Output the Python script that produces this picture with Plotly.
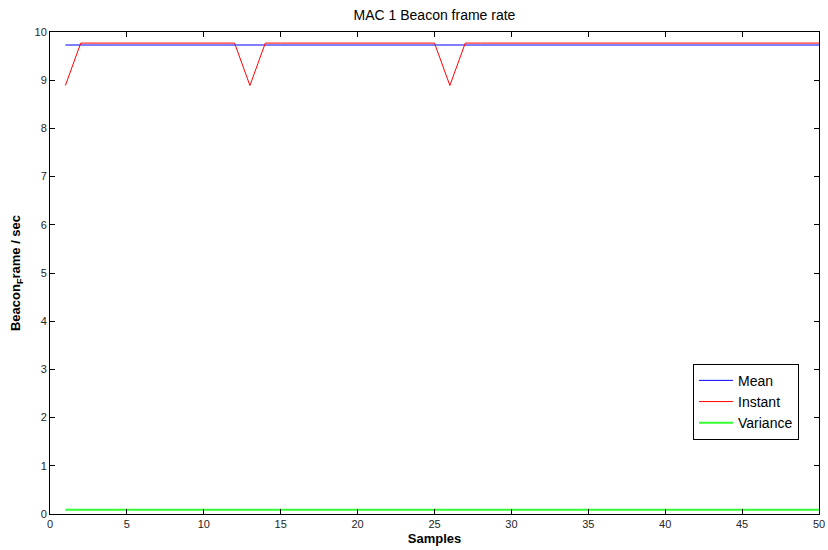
import plotly.graph_objects as go

# Beacon frame rate samples for MAC 1
samples = list(range(1, 51))
mean_rate = [9.73] * 50
instant_rate = [8.89] + [9.77] * 11 + [8.89] + [9.77] * 12 + [8.89] + [9.77] * 24
variance = [0.09] * 50

x_ticks = [0, 5, 10, 15, 20, 25, 30, 35, 40, 45, 50]
y_ticks = [0, 1, 2, 3, 4, 5, 6, 7, 8, 9, 10]

font_family = "Liberation Sans, Arial, sans-serif"

fig = go.Figure()
fig.add_trace(go.Scatter(x=samples, y=mean_rate, mode="lines", name="Mean",
                         line=dict(color="#0000ff", width=1)))
fig.add_trace(go.Scatter(x=samples, y=instant_rate, mode="lines", name="Instant",
                         line=dict(color="#ff0000", width=1)))
fig.add_trace(go.Scatter(x=samples, y=variance, mode="lines", name="Variance",
                         line=dict(color="#33ff33", width=2)))

axis_common = dict(
    showgrid=False, zeroline=False, automargin=False,
    showline=True, linecolor="black", linewidth=1, mirror="allticks",
    ticks="inside", ticklen=5, tickcolor="black", tickwidth=1,
    tickfont=dict(family=font_family, size=11, color="#262626"),
)

fig.update_layout(
    width=828, height=550,
    margin=dict(l=50, r=9, t=32, b=36),
    paper_bgcolor="white", plot_bgcolor="white",
    font=dict(family=font_family, color="black"),
    title=dict(text="MAC 1 Beacon frame rate", x=0.5, xref="paper",
               y=1, yref="paper", yanchor="bottom", pad=dict(b=12),
               font=dict(size=14, color="black")),
    xaxis=dict(range=[0, 50], tickvals=x_ticks,
               title=dict(text="<b>Samples</b>", font=dict(size=13), standoff=4),
               **axis_common),
    yaxis=dict(range=[0, 10], tickvals=y_ticks,
               title=dict(text="<b>Beacon<sub>F</sub>rame / sec</b>", font=dict(size=13), standoff=10),
               **axis_common),
    legend=dict(x=0.974, xanchor="right", y=0.154, yanchor="bottom",
                bgcolor="white", bordercolor="black", borderwidth=1,
                font=dict(size=14, color="black"), tracegroupgap=0,
                itemwidth=34),
    showlegend=True,
)

fig.write_html("out.html")
